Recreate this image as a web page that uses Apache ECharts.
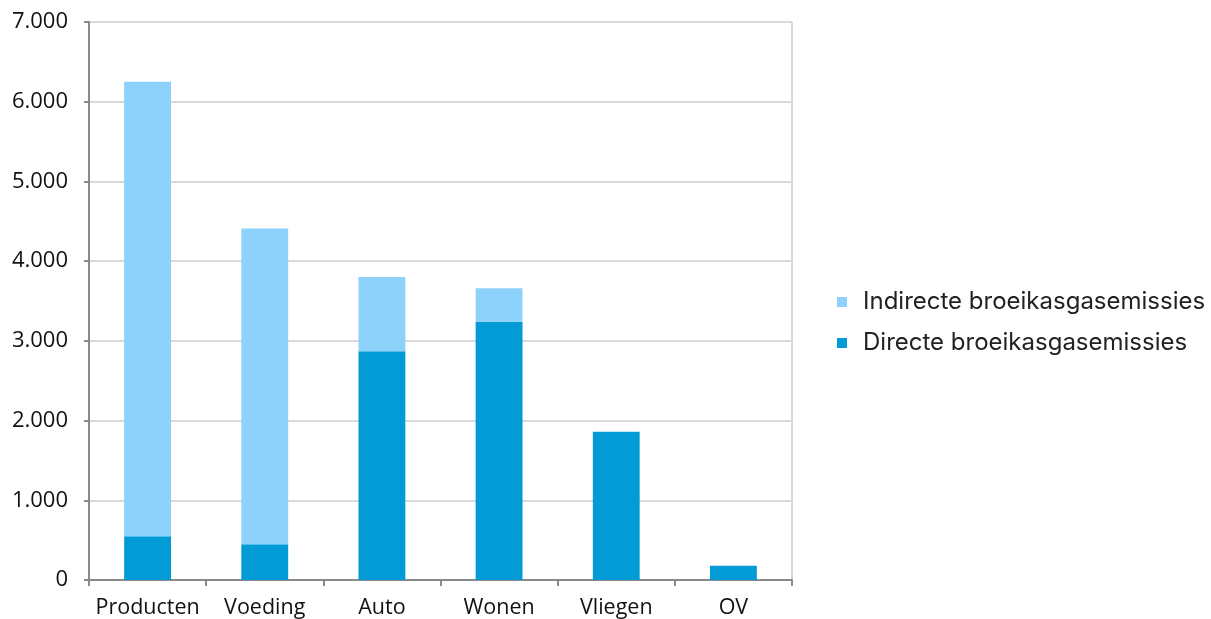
<!DOCTYPE html>
<html>
<head>
<meta charset="utf-8">
<script src="https://cdn.jsdelivr.net/npm/echarts@6/dist/echarts.min.js"></script>
<style>
  html, body { margin: 0; padding: 0; background: #fff; }
  #chart { width: 1211px; height: 619px; }
</style>
</head>
<body>
<div id="chart"></div>
<script>
// categorieen
var categories = ["Producten", "Voeding", "Auto", "Wonen", "Vliegen", "OV"];
// directe en indirecte uitstoot
var directValues = [550, 450, 2870, 3240, 1860, 180];
var indirectValues = [5700, 3960, 930, 420, 0, 0];
var yTicks = [0, 1000, 2000, 3000, 4000, 5000, 6000, 7000];

var lightBlue = "#8DD2FA";
var darkBlue = "#039BD6";

var myChart = echarts.init(document.getElementById("chart"));
var option = {
  animation: false,
  grid: { left: 89, right: 419, top: 22, bottom: 39 },
  legend: {
    orient: "vertical",
    left: 832,
    top: 285,
    itemWidth: 10,
    itemHeight: 10,
    itemGap: 17,
    icon: "rect",
    data: ["Indirecte broeikasgasemissies", "Directe broeikasgasemissies"],
    textStyle: { fontFamily: "Inter", fontSize: 24, color: "#222", padding: [0, 0, 0, 11] }
  },
  xAxis: {
    type: "category",
    data: categories,
    axisLine: { lineStyle: { color: "#8a8a8a", width: 2 } },
    axisTick: { show: true, interval: 0, length: 6, lineStyle: { color: "#8a8a8a", width: 2 } },
    axisLabel: { interval: 0, fontFamily: "Open Sans", fontSize: 21.5, color: "#111", margin: 17 }
  },
  yAxis: {
    type: "value",
    min: yTicks[0],
    max: yTicks[yTicks.length - 1],
    interval: 1000,
    axisLine: { show: true, lineStyle: { color: "#8a8a8a", width: 2 } },
    axisTick: { show: true, length: 5, lineStyle: { color: "#8a8a8a", width: 2 } },
    splitLine: { lineStyle: { color: "#d9d9d9", width: 2 } },
    axisLabel: {
      fontFamily: "Open Sans", fontSize: 22, color: "#111", margin: 21,
      formatter: function (v) { return v.toLocaleString("de-DE"); }
    }
  },
  series: [
    {
      name: "Directe broeikasgasemissies",
      type: "bar",
      stack: "totaal",
      barWidth: "40%",
      itemStyle: { color: darkBlue },
      data: directValues
    },
    {
      name: "Indirecte broeikasgasemissies",
      type: "bar",
      stack: "totaal",
      barWidth: "40%",
      itemStyle: { color: lightBlue },
      data: indirectValues
    }
  ]
};
myChart.setOption(option);

// rechter kader van het plotgebied
var rect = myChart.getModel().getComponent("grid").coordinateSystem.getRect();
myChart.setOption({
  graphic: [{
    type: "line",
    shape: { x1: rect.x + rect.width, y1: rect.y, x2: rect.x + rect.width, y2: rect.y + rect.height },
    style: { stroke: "#d9d9d9", lineWidth: 2 },
    silent: true
  }]
});
</script>
</body>
</html>
